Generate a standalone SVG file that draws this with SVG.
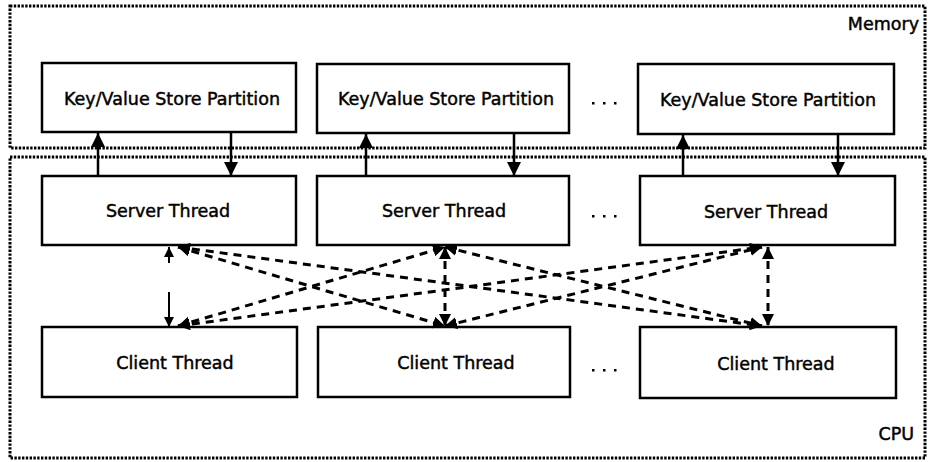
<svg xmlns="http://www.w3.org/2000/svg" width="928" height="462" viewBox="0 0 928 462">
<style>
.node rect{fill:#fff;stroke:#000;stroke-width:2.5}
.lbl{font-family:"DejaVu Sans",Verdana,sans-serif;font-size:17.5px;fill:#000;stroke:#000;stroke-width:0.45;text-anchor:middle}
.region{fill:none;stroke:#000;stroke-width:3;stroke-dasharray:2.4 1.4}
.rlbl{font-family:"DejaVu Sans",Verdana,sans-serif;font-size:17.5px;fill:#000;stroke:#000;stroke-width:0.45;text-anchor:end}
.solid{stroke:#000;stroke-width:2.5;fill:none;marker-end:url(#ah)}
.thin{stroke:#000;stroke-width:2;fill:none;marker-end:url(#ahs)}
.dash{stroke:#000;stroke-width:3;fill:none;stroke-dasharray:8 6;marker-start:url(#ahd);marker-end:url(#ahd)}
.dots{fill:#000}
</style>
<defs>
<marker id="ah" viewBox="0 0 14 14" refX="14" refY="7" markerWidth="14" markerHeight="14" markerUnits="userSpaceOnUse" orient="auto"><path d="M0,0 L14,7 L0,14 z" fill="#000"/></marker>
<marker id="ahs" viewBox="0 0 10 10" refX="10" refY="5" markerWidth="10" markerHeight="10" markerUnits="userSpaceOnUse" orient="auto"><path d="M0,0 L10,5 L0,10 z" fill="#000"/></marker>
<marker id="ahd" viewBox="0 0 12 12" refX="12" refY="6" markerWidth="12" markerHeight="12" markerUnits="userSpaceOnUse" orient="auto-start-reverse"><path d="M0,0 L12,6 L0,12 z" fill="#000"/></marker>
</defs>

<g id="memory">
<rect class="region" x="10" y="6" width="915" height="142"/>
<text class="rlbl" x="919" y="30">Memory</text>
</g>
<g id="cpu">
<rect class="region" x="10" y="157" width="915" height="301"/>
<text class="rlbl" x="914" y="440">CPU</text>
</g>

<g id="kv1" class="node"><rect x="42" y="63" width="254" height="69"/><text class="lbl" x="172" y="105">Key/Value Store Partition</text></g>
<g id="kv2" class="node"><rect x="317" y="64" width="252" height="69"/><text class="lbl" x="446" y="105">Key/Value Store Partition</text></g>
<g id="kv3" class="node"><rect x="638" y="64" width="256" height="70"/><text class="lbl" x="768" y="106">Key/Value Store Partition</text></g>

<g id="srv1" class="node"><rect x="42" y="176" width="254" height="69"/><text class="lbl" x="168" y="217">Server Thread</text></g>
<g id="srv2" class="node"><rect x="317" y="176" width="252" height="69"/><text class="lbl" x="444" y="217">Server Thread</text></g>
<g id="srv3" class="node"><rect x="640" y="176" width="255" height="69"/><text class="lbl" x="766" y="218">Server Thread</text></g>

<g id="cli1" class="node"><rect x="42" y="327" width="255" height="70"/><text class="lbl" x="175" y="369">Client Thread</text></g>
<g id="cli2" class="node"><rect x="318" y="327" width="252" height="70"/><text class="lbl" x="456" y="369">Client Thread</text></g>
<g id="cli3" class="node"><rect x="640" y="327" width="256" height="71"/><text class="lbl" x="776" y="370">Client Thread</text></g>

<g id="ellipses" class="dots">
<rect x="592" y="102" width="2.5" height="2.5"/><rect x="603" y="102" width="2.5" height="2.5"/><rect x="614" y="102" width="2.5" height="2.5"/>
<rect x="592" y="215" width="2.5" height="2.5"/><rect x="603" y="215" width="2.5" height="2.5"/><rect x="614" y="215" width="2.5" height="2.5"/>
<rect x="592" y="369" width="2.5" height="2.5"/><rect x="603" y="369" width="2.5" height="2.5"/><rect x="614" y="369" width="2.5" height="2.5"/>
</g>

<g id="connectors">
<line class="solid" x1="98" y1="176" x2="98" y2="133"/>
<line class="solid" x1="231" y1="133" x2="231" y2="176"/>
<line class="solid" x1="366" y1="176" x2="366" y2="134"/>
<line class="solid" x1="514" y1="134" x2="514" y2="176"/>
<line class="solid" x1="683" y1="176" x2="683" y2="135"/>
<line class="solid" x1="838" y1="135" x2="838" y2="176"/>

<line class="thin" x1="169" y1="263" x2="169" y2="247"/>
<line class="thin" x1="169" y1="292" x2="169" y2="327"/>

<line class="dash" x1="178" y1="247" x2="445" y2="326"/>
<line class="dash" x1="178" y1="247" x2="762" y2="326"/>
<line class="dash" x1="178" y1="326" x2="445" y2="247"/>
<line class="dash" x1="178" y1="326" x2="762" y2="247"/>
<line class="dash" x1="445" y1="247" x2="762" y2="326"/>
<line class="dash" x1="445" y1="326" x2="762" y2="247"/>
<line class="dash" x1="445" y1="247" x2="445" y2="326"/>
<line class="dash" x1="768" y1="247" x2="768" y2="326"/>
</g>
</svg>
